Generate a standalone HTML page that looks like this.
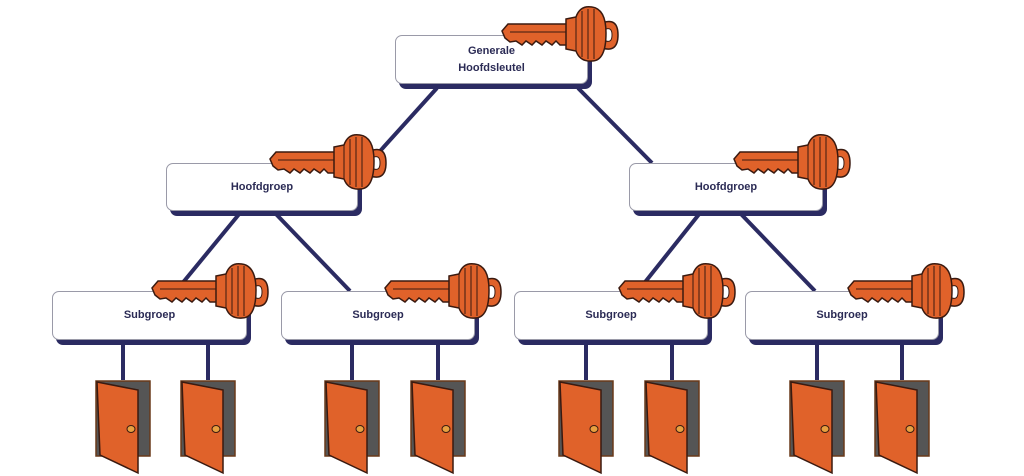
<!DOCTYPE html>
<html><head><meta charset="utf-8"><style>
html,body{margin:0;padding:0;background:#fff;}
.wrap{position:relative;width:1024px;height:476px;overflow:hidden;font-family:"Liberation Sans",sans-serif;}
.box{position:absolute;background:#fff;border:1px solid #9a9aa8;border-radius:7px;box-shadow:4px 5px 0 #2b2b62;display:flex;align-items:center;justify-content:center;text-align:center;font-size:11px;font-weight:bold;color:#2b2b55;line-height:17px;box-sizing:border-box;}
svg{position:absolute;left:0;top:0;}
</style></head><body><div class="wrap">
<svg width="1024" height="476">
<defs>
<g id="key">
<path d="M100,18 q16,-6 16,12 q0,18 -16,13 z" fill="#e0622a" stroke="#3a1a10" stroke-width="1.5"/>
<path d="M104,24 q6,-2 6,6 q0,8 -6,6 z" fill="#fff" stroke="#3a1a10" stroke-width="1"/>
<path d="M0,26 L6,19 L66,19 L66,40 L58,40 L54,36 L50,40 L44,36 L40,40 L34,36 L30,40 L24,36 L20,40 L14,36 L8,37 L3,33 Z" fill="#e0622a" stroke="#3a1a10" stroke-width="1.5"/>
<line x1="8" y1="27" x2="64" y2="27" stroke="#3a1a10" stroke-width="1"/>
<path d="M64,14 L74,12 Q78,0 90,2 Q104,4 104,28 Q104,56 90,56 Q78,57 74,46 L64,44 Z" fill="#e0622a" stroke="#3a1a10" stroke-width="1.5"/>
<line x1="80" y1="6" x2="80" y2="52" stroke="#3a1a10" stroke-width="1"/>
<line x1="86" y1="4" x2="86" y2="54" stroke="#3a1a10" stroke-width="1"/>
<line x1="92" y1="4" x2="92" y2="54" stroke="#3a1a10" stroke-width="1"/>
<line x1="74" y1="12" x2="74" y2="46" stroke="#3a1a10" stroke-width="1"/>
</g>
<g id="door">
<rect x="0" y="0" width="54" height="75" fill="#555" stroke="#6a3a1a" stroke-width="1.5"/>
<path d="M1,1 L42,9 L42,92 L4,74 Z" fill="#e0622a" stroke="#3a1a10" stroke-width="1.5"/>
<ellipse cx="35" cy="48" rx="4" ry="3.5" fill="#e8a040" stroke="#3a1a10" stroke-width="1"/>
</g>
</defs>
<g stroke="#2b2b62" stroke-width="4" fill="none">
<line x1="437" y1="88" x2="372" y2="160"/>
<line x1="578" y1="88" x2="652" y2="163"/>
<line x1="240" y1="213" x2="176" y2="291"/>
<line x1="275" y1="213" x2="350" y2="291"/>
<line x1="700" y1="213" x2="638" y2="291"/>
<line x1="740" y1="213" x2="815" y2="291"/>
<line x1="123" y1="340" x2="123" y2="380"/><line x1="208" y1="340" x2="208" y2="380"/>
<line x1="352" y1="340" x2="352" y2="380"/><line x1="438" y1="340" x2="438" y2="380"/>
<line x1="586" y1="340" x2="586" y2="380"/><line x1="672" y1="340" x2="672" y2="380"/>
<line x1="817" y1="340" x2="817" y2="380"/><line x1="902" y1="340" x2="902" y2="380"/>
</g>
<use href="#door" x="96" y="381"/><use href="#door" x="181" y="381"/>
<use href="#door" x="325" y="381"/><use href="#door" x="411" y="381"/>
<use href="#door" x="559" y="381"/><use href="#door" x="645" y="381"/>
<use href="#door" x="790" y="381"/><use href="#door" x="875" y="381"/>
</svg>
<div class="box" style="left:395px;top:35px;width:193px;height:49px;">Generale<br>Hoofdsleutel</div>
<div class="box" style="left:166px;top:163px;width:192px;height:48px;">Hoofdgroep</div>
<div class="box" style="left:629px;top:163px;width:194px;height:48px;">Hoofdgroep</div>
<div class="box" style="left:52px;top:291px;width:195px;height:49px;">Subgroep</div>
<div class="box" style="left:281px;top:291px;width:194px;height:49px;">Subgroep</div>
<div class="box" style="left:514px;top:291px;width:194px;height:49px;">Subgroep</div>
<div class="box" style="left:745px;top:291px;width:194px;height:49px;">Subgroep</div>
<svg width="1024" height="476">
<use href="#key" x="502" y="5"/>
<use href="#key" x="270" y="133"/>
<use href="#key" x="734" y="133"/>
<use href="#key" x="152" y="262"/>
<use href="#key" x="385" y="262"/>
<use href="#key" x="619" y="262"/>
<use href="#key" x="848" y="262"/>
</svg>
</div></body></html>
